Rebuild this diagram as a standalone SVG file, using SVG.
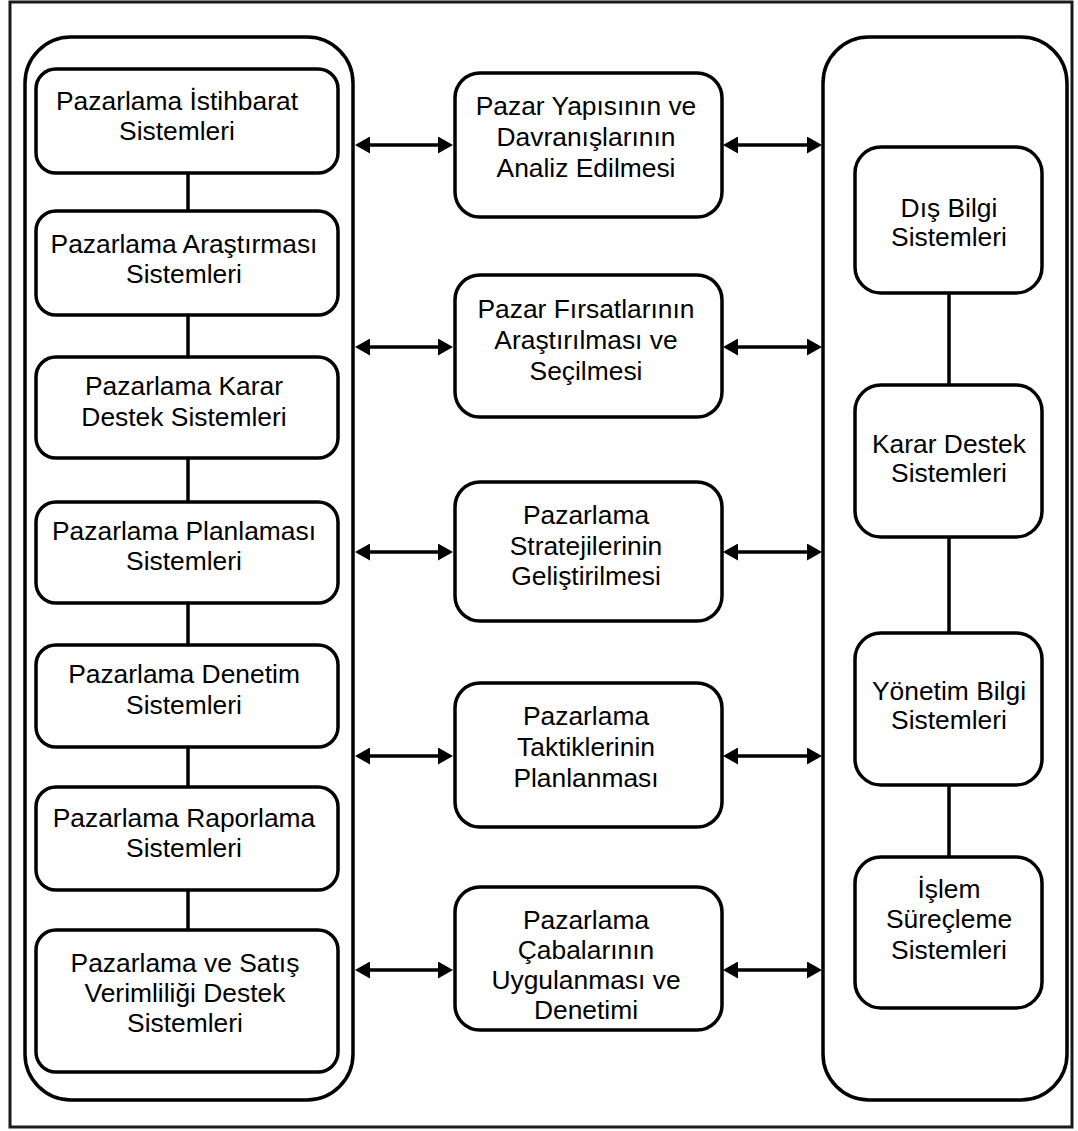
<svg xmlns="http://www.w3.org/2000/svg" width="1078" height="1131" viewBox="0 0 1078 1131">
  <defs>
    <marker id="head" markerUnits="userSpaceOnUse" markerWidth="15" markerHeight="17" viewBox="0 0 15 17" refX="0" refY="8.5" orient="auto-start-reverse">
      <path d="M0,0 L15,8.5 L0,17 z" fill="#000"/>
    </marker>
    <style>
      .frame { fill: #fff; stroke: #1a1a1a; stroke-width: 3; }
      .group { fill: none; stroke: #000; stroke-width: 3.5; }
      .box { fill: #fff; stroke: #000; stroke-width: 3.5; }
      .link { stroke: #000; stroke-width: 3.5; fill: none; }
      .arrow { stroke: #000; stroke-width: 3.5; fill: none; marker-start: url(#head); marker-end: url(#head); }
      text { font-family: "Liberation Sans", Arial, sans-serif; font-size: 26.4px; fill: #000; text-anchor: middle; }
    </style>
  </defs>

  <!-- page frame -->
  <rect class="frame" x="10" y="2" width="1062" height="1125"/>

  <!-- column containers -->
  <rect id="left-column" class="group" x="25" y="37" width="328" height="1063" rx="46"/>
  <rect id="right-column" class="group" x="823" y="37" width="244" height="1063" rx="46"/>

  <!-- connectors -->
  <g id="connectors">
    <line class="link" x1="188" y1="173" x2="188" y2="211"/>
    <line class="link" x1="188" y1="315" x2="188" y2="357"/>
    <line class="link" x1="188" y1="458" x2="188" y2="502"/>
    <line class="link" x1="188" y1="603" x2="188" y2="645"/>
    <line class="link" x1="188" y1="747" x2="188" y2="787"/>
    <line class="link" x1="188" y1="890" x2="188" y2="930"/>

    <line class="link" x1="949" y1="293" x2="949" y2="385"/>
    <line class="link" x1="949" y1="537" x2="949" y2="633"/>
    <line class="link" x1="949" y1="785" x2="949" y2="857"/>

    <line class="arrow" x1="370" y1="145" x2="438" y2="145"/>
    <line class="arrow" x1="738" y1="145" x2="807" y2="145"/>
    <line class="arrow" x1="370" y1="347" x2="438" y2="347"/>
    <line class="arrow" x1="738" y1="347" x2="807" y2="347"/>
    <line class="arrow" x1="370" y1="552" x2="438" y2="552"/>
    <line class="arrow" x1="738" y1="552" x2="807" y2="552"/>
    <line class="arrow" x1="370" y1="756" x2="438" y2="756"/>
    <line class="arrow" x1="738" y1="756" x2="807" y2="756"/>
    <line class="arrow" x1="370" y1="970" x2="438" y2="970"/>
    <line class="arrow" x1="738" y1="970" x2="807" y2="970"/>
  </g>

  <!-- left column: marketing information subsystems -->
  <g id="n-istihbarat">
    <rect class="box" x="36" y="69" width="302" height="104" rx="20"/>
    <text x="177" y="110">Pazarlama İstihbarat</text>
    <text x="177" y="140">Sistemleri</text>
  </g>
  <g id="n-arastirma">
    <rect class="box" x="36" y="211" width="302" height="104" rx="20"/>
    <text x="184" y="253">Pazarlama Araştırması</text>
    <text x="184" y="283">Sistemleri</text>
  </g>
  <g id="n-karar">
    <rect class="box" x="36" y="357" width="302" height="101" rx="20"/>
    <text x="184" y="395">Pazarlama Karar</text>
    <text x="184" y="426">Destek Sistemleri</text>
  </g>
  <g id="n-planlama">
    <rect class="box" x="36" y="502" width="302" height="101" rx="20"/>
    <text x="184" y="540">Pazarlama Planlaması</text>
    <text x="184" y="570">Sistemleri</text>
  </g>
  <g id="n-denetim">
    <rect class="box" x="36" y="645" width="302" height="102" rx="20"/>
    <text x="184" y="683">Pazarlama Denetim</text>
    <text x="184" y="714">Sistemleri</text>
  </g>
  <g id="n-raporlama">
    <rect class="box" x="36" y="787" width="302" height="103" rx="20"/>
    <text x="184" y="827">Pazarlama Raporlama</text>
    <text x="184" y="857">Sistemleri</text>
  </g>
  <g id="n-verimlilik">
    <rect class="box" x="36" y="930" width="302" height="142" rx="20"/>
    <text x="185" y="972">Pazarlama ve Satış</text>
    <text x="185" y="1002">Verimliliği Destek</text>
    <text x="185" y="1032">Sistemleri</text>
  </g>

  <!-- middle column: marketing activities -->
  <g id="m-analiz">
    <rect class="box" x="455" y="73" width="267" height="144" rx="25"/>
    <text x="586" y="115">Pazar Yapısının ve</text>
    <text x="586" y="146">Davranışlarının</text>
    <text x="586" y="177">Analiz Edilmesi</text>
  </g>
  <g id="m-firsat">
    <rect class="box" x="455" y="275" width="267" height="142" rx="25"/>
    <text x="586" y="318">Pazar Fırsatlarının</text>
    <text x="586" y="349">Araştırılması ve</text>
    <text x="586" y="380">Seçilmesi</text>
  </g>
  <g id="m-strateji">
    <rect class="box" x="455" y="482" width="267" height="139" rx="25"/>
    <text x="586" y="524">Pazarlama</text>
    <text x="586" y="555">Stratejilerinin</text>
    <text x="586" y="585">Geliştirilmesi</text>
  </g>
  <g id="m-taktik">
    <rect class="box" x="455" y="683" width="267" height="144" rx="25"/>
    <text x="586" y="725">Pazarlama</text>
    <text x="586" y="756">Taktiklerinin</text>
    <text x="586" y="787">Planlanması</text>
  </g>
  <g id="m-uygulama">
    <rect class="box" x="455" y="887" width="267" height="143" rx="25"/>
    <text x="586" y="929">Pazarlama</text>
    <text x="586" y="959">Çabalarının</text>
    <text x="586" y="989">Uygulanması ve</text>
    <text x="586" y="1019">Denetimi</text>
  </g>

  <!-- right column: company information systems -->
  <g id="r-dis">
    <rect class="box" x="855" y="147" width="187" height="146" rx="26"/>
    <text x="949" y="217">Dış Bilgi</text>
    <text x="949" y="246">Sistemleri</text>
  </g>
  <g id="r-karar">
    <rect class="box" x="855" y="385" width="187" height="152" rx="26"/>
    <text x="949" y="453">Karar Destek</text>
    <text x="949" y="482">Sistemleri</text>
  </g>
  <g id="r-yonetim">
    <rect class="box" x="855" y="633" width="187" height="152" rx="26"/>
    <text x="949" y="700">Yönetim Bilgi</text>
    <text x="949" y="729">Sistemleri</text>
  </g>
  <g id="r-islem">
    <rect class="box" x="855" y="857" width="187" height="151" rx="26"/>
    <text x="949" y="898">İşlem</text>
    <text x="949" y="928">Süreçleme</text>
    <text x="949" y="959">Sistemleri</text>
  </g>
</svg>
